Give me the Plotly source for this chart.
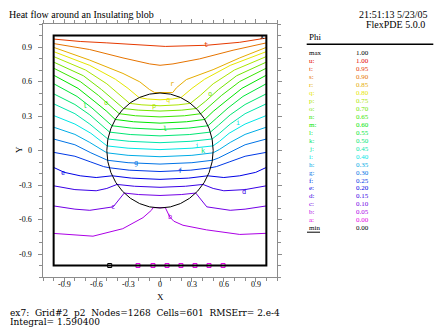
import colorsys
import plotly.graph_objects as go

# ---- contour levels of Phi -------------------------------------------------
level_names = ["a", "b", "c", "d", "e", "f", "g", "h", "i", "j", "k",
               "l", "m", "n", "o", "p", "q", "r", "s", "t", "u"]
level_values = [0.00, 0.05, 0.10, 0.15, 0.20, 0.25, 0.30, 0.35, 0.40, 0.45, 0.50,
                0.55, 0.60, 0.65, 0.70, 0.75, 0.80, 0.85, 0.90, 0.95, 1.00]
phi_max, phi_min = 1.00, 0.00

# ---- contour paths (x, y) -----------------------------------------------------
phi_t = [(-1, .969), (-0.75, .948), (-0.5, .936), (-0.19, .921), (0.05, .905),
         (0.437, .915), (0.75, .941), (1, .978)]
phi_s = [(-1, .930), (-0.661, .878), (-0.348, .805), (-0.097, .753), (0, .741),
         (0.122, .753), (0.373, .797), (0.687, .872), (1, .936)]
phi_r = [(-1, .897), (-0.661, .786), (-0.348, .67), (-0.19, .597), (-0.1, .531),
         (-0.05, .504), (0.12, .504), (0.154, .545), (0.248, .617), (0.499, .703),
         (0.749, .805), (1, .897)]
phi_q = [(-1, .86), (-0.66, .74), (-0.42, .62), (-0.3, .54), (-0.197, .46),
         (-0.12, .448), (0, .441), (0.12, .448), (0.197, .46), (0.3, .54),
         (0.42, .62), (0.66, .74), (1, .86)]
phi_p = [(-1, .817), (-0.7, .70), (-0.5, .58), (-0.38, .48), (-0.286, .41),
         (-0.17, .397), (0, .389), (0.17, .397), (0.286, .41), (0.38, .48),
         (0.5, .58), (0.7, .70), (1, .817)]
phi_o = [(-1, .769), (-0.72, .65), (-0.55, .53), (-0.43, .43), (-0.342, .365),
         (-0.205, .351), (0, .343), (0.205, .351), (0.342, .365), (0.43, .43),
         (0.55, .53), (0.72, .65), (1, .769)]
phi_n = [(-1, .716), (-0.75, .60), (-0.58, .48), (-0.47, .39), (-0.384, .32),
         (-0.23, .302), (0, .292), (0.23, .302), (0.384, .32), (0.47, .39),
         (0.58, .48), (0.75, .60), (1, .716)]
phi_m = [(-1, .655), (-0.77, .54), (-0.62, .43), (-0.5, .34), (-0.421, .27),
         (-0.25, .25), (0, .238), (0.25, .25), (0.421, .27), (0.5, .34),
         (0.62, .43), (0.77, .54), (1, .655)]
phi_l = [(-1, .581), (-0.78, .47), (-0.64, .37), (-0.53, .28), (-0.451, .215),
         (-0.27, .195), (0, .183), (0.27, .195), (0.451, .215), (0.53, .28),
         (0.64, .37), (0.78, .47), (1, .581)]
phi_k = [(-1, .493), (-0.8, .40), (-0.66, .31), (-0.55, .22), (-0.474, .16),
         (-0.28, .139), (0, .127), (0.28, .139), (0.474, .16), (0.55, .22),
         (0.66, .31), (0.8, .40), (1, .493)]
phi_j = [(-1, .406), (-0.8, .32), (-0.66, .23), (-0.56, .15), (-0.49, .10),
         (-0.29, .08), (0, .068), (0.29, .08), (0.49, .10), (0.56, .15),
         (0.66, .23), (0.8, .32), (1, .406)]
phi_i = [(-1, .304), (-0.8, .23), (-0.65, .15), (-0.56, .08), (-0.498, .04),
         (-0.3, .02), (0, .008), (0.3, .02), (0.498, .04), (0.56, .08),
         (0.65, .15), (0.8, .23), (1, .304)]
phi_h = [(-1, .203), (-0.8, .14), (-0.66, .07), (-0.56, .01), (-0.5, -.02),
         (-0.3, -.042), (0, -.054), (0.3, -.042), (0.5, -.02), (0.56, .01),
         (0.66, .07), (0.8, .14), (1, .203)]
phi_g = [(-1, .100), (-0.8, .05), (-0.65, -.02), (-0.55, -.065), (-0.493, -.085),
         (-0.3, -.106), (0, -.118), (0.3, -.106), (0.493, -.085), (0.55, -.065),
         (0.65, -.02), (0.8, .05), (1, .100)]
phi_f = [(-1, -.016), (-0.8, -.05), (-0.65, -.10), (-0.53, -.14), (-0.477, -.15),
         (-0.29, -.171), (0, -.183), (0.29, -.171), (0.477, -.15), (0.53, -.14),
         (0.65, -.10), (0.8, -.05), (1, -.016)]
phi_e = [(-1, -.147), (-0.9, -.19), (-0.75, -.22), (-0.6, -.235), (-0.449, -.22),
         (-0.27, -.24), (0, -.251), (0.27, -.24), (0.449, -.22), (0.6, -.235),
         (0.75, -.22), (0.9, -.19), (1, -.147)]
phi_d = [(-1, -.307), (-0.8, -.34), (-0.6, -.35), (-0.5, -.33), (-0.404, -.295),
         (-0.24, -.311), (0, -.32), (0.24, -.311), (0.404, -.295), (0.5, -.33),
         (0.6, -.35), (0.8, -.34), (1, -.307)]
phi_c = [(-1, -.482), (-0.8, -.51), (-0.66, -.52), (-0.44, -.49), (-0.336, -.37),
         (-0.2, -.383), (0, -.391), (0.2, -.383), (0.336, -.37), (0.44, -.49),
         (0.66, -.52), (0.8, -.51), (1, -.482)]
phi_b = [(-1, -.721), (-0.63, -.745), (-0.35, -.68), (-0.16, -.584), (-0.081, -.52),
         (-0.066, -.497), (0.05, -.497), (0.07, -.53), (0.092, -.578), (0.13, -.615),
         (0.216, -.65), (0.437, -.69), (0.75, -.73), (1, -.72)]

contours = [("t", phi_t), ("s", phi_s), ("r", phi_r), ("q", phi_q), ("p", phi_p),
            ("o", phi_o), ("n", phi_n), ("m", phi_m), ("l", phi_l), ("k", phi_k),
            ("j", phi_j), ("i", phi_i), ("h", phi_h), ("g", phi_g), ("f", phi_f),
            ("e", phi_e), ("d", phi_d), ("c", phi_c), ("b", phi_b)]

# level letters written along the contours
line_labels = [("t", 0.437, 0.915), ("r", 0.117, 0.581), ("q", 0.075, 0.441),
               ("p", -0.056, 0.389), ("o", 0.468, 0.493), ("o", -0.504, 0.417),
               ("l", 0.044, 0.183), ("l", -0.708, 0.391), ("i", 0.734, 0.238),
               ("i", 0.348, 0.039), ("k", 0.405, -0.002), ("g", -0.222, -0.112),
               ("f", 0.185, -0.176), ("e", -0.915, -0.197), ("d", 0.787, -0.36),
               ("c", -0.442, -0.491), ("b", 0.092, -0.578)]

# boundary value markers along y = -1 (level a) and the min marker
a_marks_x = [-0.207, -0.066, 0.066, 0.197, 0.329, 0.461, 0.593]
min_mark_x = -0.473

blob_radius = 0.5
domain = (-1.0, 1.0)

tick_vals = [-0.9, -0.6, -0.3, 0.0, 0.3, 0.6, 0.9]
tick_text = ["-0.9", "-0.6", "-0.3", "0", "0.3", "0.6", "0.9"]


def level_color(name):
    i = level_names.index(name)
    hue = (300 - 15 * i) / 360.0
    r, g, b = colorsys.hsv_to_rgb(hue, 1.0, 0.9)
    return "rgb(%d,%d,%d)" % (round(r * 255), round(g * 255), round(b * 255))


W, H = 448, 336
ML, MR, MT, MB = 43, 171, 24, 59
PW, PH = W - ML - MR, H - MT - MB


def paper(px, py):
    return (px - ML) / PW, (H - MB - py) / PH


fig = go.Figure()

for name, pts in contours:
    fig.add_trace(go.Scatter(
        x=[p[0] for p in pts], y=[p[1] for p in pts], mode="lines",
        line=dict(color=level_color(name), width=1),
        hoverinfo="skip", showlegend=False))

fig.add_trace(go.Scatter(
    x=a_marks_x, y=[domain[0]] * len(a_marks_x), mode="markers",
    marker=dict(symbol="square-open", size=4, color=level_color("a"), line=dict(width=1)),
    hoverinfo="skip", showlegend=False))
fig.add_trace(go.Scatter(
    x=[min_mark_x], y=[domain[0]], mode="markers",
    marker=dict(symbol="square-open", size=4, color="black", line=dict(width=1)),
    hoverinfo="skip", showlegend=False))

for name, lx, ly in line_labels:
    fig.add_annotation(x=lx, y=ly, text=name, showarrow=False,
                       font=dict(family="DejaVu Sans Mono", size=7, color=level_color(name)))
fig.add_annotation(x=0.96, y=0.985, text="x", showarrow=False,
                   font=dict(family="DejaVu Sans Mono", size=7, color="black"))

# domain frame and insulating blob
fig.add_shape(type="rect", x0=domain[0], x1=domain[1], y0=domain[0], y1=domain[1],
              line=dict(color="black", width=2))
fig.add_shape(type="circle", x0=-blob_radius, x1=blob_radius, y0=-blob_radius, y1=blob_radius,
              line=dict(color="black", width=1))

axis_style = dict(range=[-1.1, 1.1], showgrid=False, zeroline=False,
                  showline=True, linecolor="#8c8c8c", linewidth=1, mirror="allticks",
                  ticks="outside", ticklen=4, tickcolor="#8c8c8c", tickwidth=1,
                  tickvals=tick_vals, showticklabels=False,
                  minor=dict(dtick=0.1, tick0=0, ticks="outside", ticklen=3,
                             tickcolor="#8c8c8c"))
fig.update_xaxes(**axis_style)
fig.update_yaxes(**axis_style)

serif = "Liberation Serif"
tick_font = dict(family=serif, size=8, color="black")
_, xlab_y = paper(0, 284)
ylab_x, _ = paper(34, 0)
for v, t in zip(tick_vals, tick_text):
    fig.add_annotation(x=v, xref="x", y=xlab_y, yref="paper", text=t, showarrow=False,
                       xanchor="center", yanchor="middle", font=tick_font)
    fig.add_annotation(y=v, yref="y", x=ylab_x, xref="paper", text=t, showarrow=False,
                       xanchor="right", yanchor="middle", font=tick_font)

texts = [
    ("Heat flow around an Insulating blob", 7, 14, "left", 10, serif),
    ("21:51:13 5/23/05", 430, 14, "right", 10, serif),
    ("FlexPDE 5.0.0", 427, 25, "right", 10, serif),
    ("ex7:  Grid#2  p2  Nodes=1268  Cells=601  RMSErr= 2.e-4", 8, 313, "left", 9, "DejaVu Serif"),
    ("Integral= 1.590400", 8, 322, "left", 9, "DejaVu Serif"),
    ("X", 160, 297, "center", 9, serif),
    ("Phi", 307, 37, "left", 9, serif),
]
for txt, px, py, anchor, size, fam in texts:
    ax, ay = paper(px, py)
    fig.add_annotation(xref="paper", yref="paper", x=ax, y=ay, text=txt, showarrow=False,
                       xanchor=anchor, yanchor="middle",
                       font=dict(family=fam, size=size, color="black"))
yx, yy = paper(12, 150)
fig.add_annotation(xref="paper", yref="paper", x=yx, y=yy, text="Y", showarrow=False,
                   textangle=-90, font=dict(family=serif, size=9, color="black"))

# legend table
u0x, u0y = paper(306.7, 44.3)
u1x, _ = paper(433.3, 44.3)
fig.add_shape(type="line", xref="paper", yref="paper", x0=u0x, x1=u1x, y0=u0y, y1=u0y,
              line=dict(color="black", width=1.5))
rows = [("max", phi_max, "black")]
for name, val in zip(level_names[::-1], level_values[::-1]):
    rows.append((name + ":", val, level_color(name)))
rows.append(("min", phi_min, "black"))
for i, (lab, val, col) in enumerate(rows):
    py = 53.3 + i * 7.95
    lx, ly = paper(307, py)
    vx, _ = paper(362, py)
    fig.add_annotation(xref="paper", yref="paper", x=lx, y=ly, text=lab, showarrow=False,
                       xanchor="left", yanchor="middle",
                       font=dict(family=serif, size=7, color=col))
    fig.add_annotation(xref="paper", yref="paper", x=vx, y=ly, text="%.2f" % val,
                       showarrow=False, xanchor="center", yanchor="middle",
                       font=dict(family=serif, size=7, color=col))
mx0, my = paper(307, 53.3 + 22 * 7.95 + 4)
mx1, _ = paper(320, 0)
fig.add_shape(type="line", xref="paper", yref="paper", x0=mx0, x1=mx1, y0=my, y1=my,
              line=dict(color="black", width=1))

fig.update_layout(width=W, height=H, margin=dict(l=ML, r=MR, t=MT, b=MB),
                  plot_bgcolor="white", paper_bgcolor="white", showlegend=False)
fig.write_html("out.html")
